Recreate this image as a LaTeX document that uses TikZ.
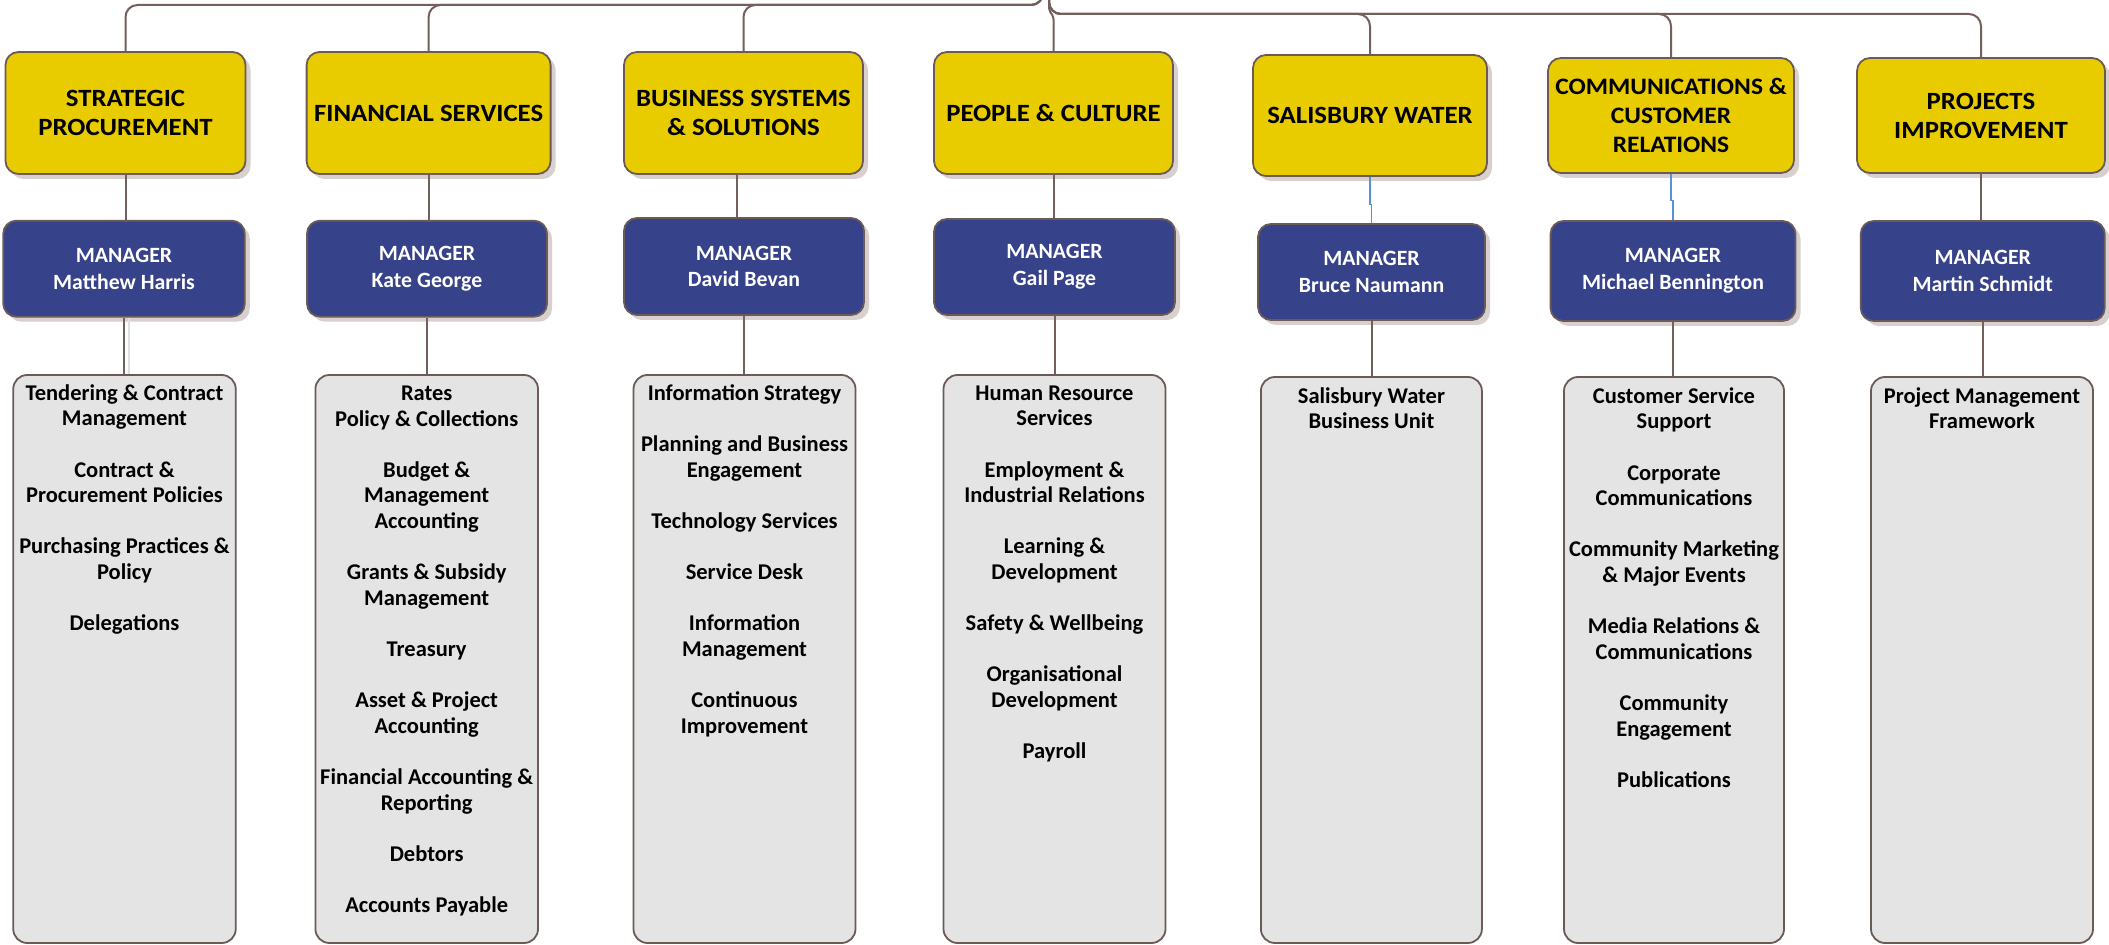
\documentclass[tikz,border=0pt]{standalone}
\usepackage{fontspec}
\setmainfont{Carlito}
\newfontfamily\hdrfont{Carlito}[FakeStretch=1.08]
\usetikzlibrary{shadows}
\definecolor{ylw}{HTML}{E8CC00}
\definecolor{navy}{HTML}{36428A}
\definecolor{listfill}{HTML}{E4E4E4}
\definecolor{bord}{HTML}{6B5A56}
\definecolor{connc}{HTML}{735F5B}
\definecolor{blueconn}{HTML}{5A8FDA}
\definecolor{shade}{HTML}{D7D0CE}
\newcommand\itemgap{\\[12.8pt]}
\tikzset{
  hdr/.style={draw=bord, line width=0.9pt, fill=ylw, rounded corners=6.5pt, align=center,
    font=\hdrfont\fontsize{12.4}{14.5}\selectfont\bfseries, text=black, inner sep=2pt,
    drop shadow={shadow xshift=2.5pt, shadow yshift=-2.5pt, fill=shade, opacity=1}},
  mgr/.style={draw=bord, line width=0.9pt, fill=navy, rounded corners=6.5pt, align=center,
    font=\fontsize{10.9}{13.3}\selectfont\bfseries, text=white, inner sep=2pt,
    drop shadow={shadow xshift=2.5pt, shadow yshift=-2.5pt, fill=shade, opacity=1}},
  lbox/.style={draw=bord, line width=0.9pt, fill=listfill, rounded corners=7pt, inner sep=0pt},
  ltext/.style={align=center, anchor=north, inner sep=0pt,
    font=\fontsize{11.25}{12.8}\selectfont\bfseries, text=black},
  conn/.style={draw=connc, line width=1pt},
  bconn/.style={draw=blueconn, line width=0.6pt},
}
\begin{document}
\begin{tikzpicture}[x=0.5pt, y=-0.5pt]
\useasboundingbox (0,0) rectangle (2109,945);
\fill[white] (0,0) rectangle (2109,945);
% department headers
\node[hdr, minimum width=120pt, minimum height=61pt] (y1) at (125.5,113) {STRATEGIC\\PROCUREMENT};
\node[hdr, minimum width=122pt, minimum height=61pt] (y2) at (428.6,113) {FINANCIAL SERVICES};
\node[hdr, minimum width=119.5pt, minimum height=61pt] (y3) at (743.5,113) {BUSINESS SYSTEMS\\\& SOLUTIONS};
\node[hdr, minimum width=119.5pt, minimum height=61pt] (y4) at (1053.5,113) {PEOPLE \& CULTURE};
\node[hdr, minimum width=117pt, minimum height=60.5pt] (y5) at (1370,115.5) {SALISBURY WATER};
\node[hdr, minimum width=123pt, minimum height=57.5pt, font=\hdrfont\fontsize{11.8}{14.5}\selectfont\bfseries] (y6) at (1671,115.5) {COMMUNICATIONS \&\\CUSTOMER\\RELATIONS};
\node[hdr, minimum width=124pt, minimum height=57.5pt] (y7) at (1981,115.5) {PROJECTS\\IMPROVEMENT};
% managers
\node[mgr, minimum width=120.75pt, minimum height=48pt] (m1) at (124,268.7) {MANAGER\\Matthew Harris};
\node[mgr, minimum width=120pt, minimum height=48pt] (m2) at (427,268.7) {MANAGER\\Kate George};
\node[mgr, minimum width=120pt, minimum height=48.5pt] (m3) at (744,266.5) {MANAGER\\David Bevan};
\node[mgr, minimum width=120.5pt, minimum height=48pt] (m4) at (1054.5,267) {MANAGER\\Gail Page};
\node[mgr, minimum width=113.5pt, minimum height=48pt] (m5) at (1371.5,272) {MANAGER\\Bruce Naumann};
\node[mgr, minimum width=122.5pt, minimum height=50pt] (m6) at (1673,271) {MANAGER\\Michael Bennington};
\node[mgr, minimum width=122pt, minimum height=50pt] (m7) at (1982.7,271) {MANAGER\\Martin Schmidt};
% list boxes
\node[lbox, minimum width=111.25pt, minimum height=284pt] (l1) at (124.5,659) {};
\node[lbox, minimum width=111.3pt, minimum height=284pt] (l2) at (426.7,659) {};
\node[lbox, minimum width=111pt, minimum height=284pt] (l3) at (744.5,659) {};
\node[lbox, minimum width=111pt, minimum height=284pt] (l4) at (1054.5,659) {};
\node[lbox, minimum width=110.5pt, minimum height=283pt] (l5) at (1371.4,660) {};
\node[lbox, minimum width=110pt, minimum height=283pt] (l6) at (1674,660) {};
\node[lbox, minimum width=111pt, minimum height=283pt] (l7) at (1982,660) {};
% list texts
\node[ltext] (t1) at (124.5,382) {\rule{0pt}{9pt}Tendering \& Contract\\Management\itemgap Contract \&\\Procurement Policies\itemgap Purchasing Practices \&\\Policy\itemgap Delegations};
\node[ltext] (t2) at (426.7,382) {\rule{0pt}{9pt}Rates\\Policy \& Collections\itemgap Budget \&\\Management\\Accounting\itemgap Grants \& Subsidy\\Management\itemgap Treasury\itemgap Asset \& Project\\Accounting\itemgap Financial Accounting \&\\Reporting\itemgap Debtors\itemgap Accounts Payable};
\node[ltext] (t3) at (744.5,382) {\rule{0pt}{9pt}Information Strategy\itemgap Planning and Business\\Engagement\itemgap Technology Services\itemgap Service Desk\itemgap Information\\Management\itemgap Continuous\\Improvement};
\node[ltext] (t4) at (1054.5,382) {\rule{0pt}{9pt}Human Resource\\Services\itemgap Employment \&\\Industrial Relations\itemgap Learning \&\\Development\itemgap Safety \& Wellbeing\itemgap Organisational\\Development\itemgap Payroll};
\node[ltext] (t5) at (1371.4,385) {\rule{0pt}{9pt}Salisbury Water\\Business Unit};
\node[ltext] (t6) at (1674,385) {\rule{0pt}{9pt}Customer Service\\Support\itemgap Corporate\\Communications\itemgap Community Marketing\\\& Major Events\itemgap Media Relations \&\\Communications\itemgap Community\\Engagement\itemgap Publications};
\node[ltext] (t7) at (1982,385) {\rule{0pt}{9pt}Project Management\\Framework};
% top connectors
\coordinate (jl) at (1043,-25);
\coordinate (jr) at (1049,-25);
\coordinate (busL) at (0,5);
\coordinate (busR) at (0,14);
\coordinate (k1) at (1049,10);
\coordinate (k2) at (0,17);
\draw[conn, rounded corners=6pt] (jl) |- (y1.north |- busL) -- (y1.north);
\draw[conn, rounded corners=6pt] (jl) |- (y2.north |- busL) -- (y2.north);
\draw[conn, rounded corners=6pt] (jl) |- (y3.north |- busL) -- (y3.north);
\draw[conn, rounded corners=1pt] (jr) -- (k1) -- (y4.north |- k2) -- (y4.north);
\draw[conn, rounded corners=6pt] (jr) |- (y5.north |- busR) -- (y5.north);
\draw[conn, rounded corners=6pt] (jr) |- (y6.north |- busR) -- (y6.north);
\draw[conn, rounded corners=6pt] (jr) |- (y7.north |- busR) -- (y7.north);
% header to manager
\draw[conn] (y1.south) -- (y1.south |- m1.north);
\draw[conn] (y2.south) -- (y2.south |- m2.north);
\draw[conn] ([xshift=-3.4pt]y3.south) -- ([xshift=-3.4pt]y3.south |- m3.north);
\draw[conn] (y4.south) -- (y4.south |- m4.north);
\draw[bconn] (y5.south) -- ++(0,28) -| (m5.north);
\draw[bconn] (y6.south) -- ++(0,27) -| (m6.north);
\draw[conn] (y7.south) -- (y7.south |- m7.north);
% manager to list
\draw[draw=black!12, line width=0.8pt] ([xshift=2.6pt]m1.south) -- ([xshift=2.6pt]m1.south |- l1.north);
\draw[conn] (m1.south) -- (m1.south |- l1.north);
\draw[conn] (m2.south) -- (m2.south |- l2.north);
\draw[conn] (m3.south) -- (m3.south |- l3.north);
\draw[conn] (m4.south) -- (m4.south |- l4.north);
\draw[conn] (m5.south) -- (m5.south |- l5.north);
\draw[conn] (m6.south) -- (m6.south |- l6.north);
\draw[conn] (m7.south) -- (m7.south |- l7.north);
\end{tikzpicture}
\end{document}
